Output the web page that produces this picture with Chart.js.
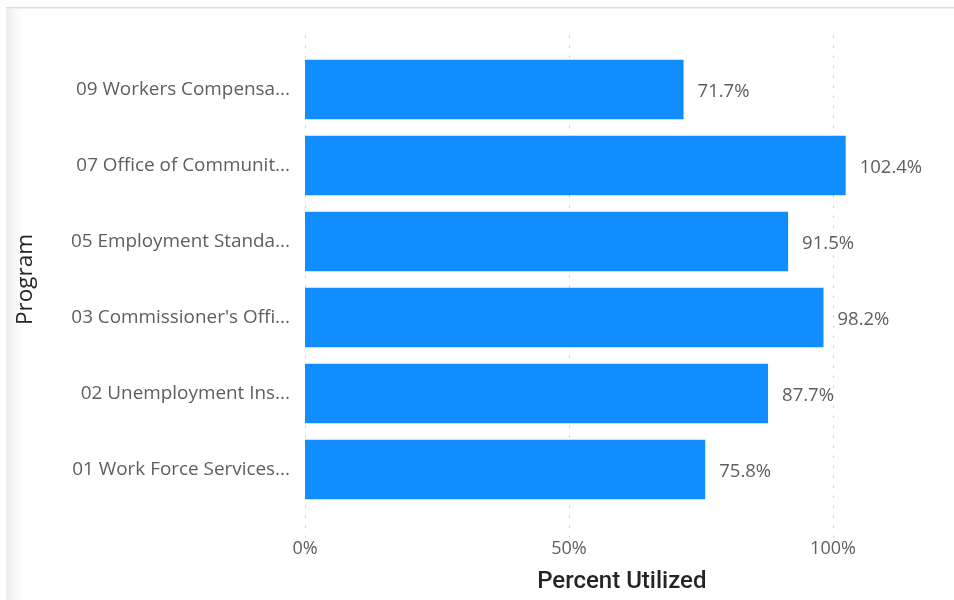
<!DOCTYPE html>
<html>
<head>
<meta charset="utf-8">
<script src="https://cdn.jsdelivr.net/npm/chart.js@4.4.1/dist/chart.umd.min.js"></script>
<style>
    html, body { margin: 0; padding: 0; background: #fff; }
    #wrap { position: relative; width: 954px; height: 600px; overflow: hidden; }
    #card {
        position: absolute; left: 6px; top: 7px; right: 0; bottom: 0;
        border-top: 1px solid #dcdcdc;
        box-shadow: inset 0 1px 0 #efefef;
        background: linear-gradient(to right, #ebebeb 0px, #f7f7f7 8px, #ffffff 18px);
    }
    #myChart { position: absolute; left: 0; top: 0; }
</style>
</head>
<body>
<div id="wrap">
    <div id="card"></div>
    <canvas id="myChart" width="954" height="600"></canvas>
</div>
<script>
//program utilization
var programs = [
    "09 Workers Compensa...",
    "07 Office of Communit...",
    "05 Employment Standa...",
    "03 Commissioner's Offi...",
    "02 Unemployment Ins...",
    "01 Work Force Services..."
];
var utilized = [71.7, 102.4, 91.5, 98.2, 87.7, 75.8];
var xTicks = [0, 50, 100];
var xMax = 120;

var labelFont = "'Open Sans', 'Noto Sans', sans-serif";
var textGray = "#605E5C";
var titleColor = "#252423";

//dotted vertical lines, they run a bit past the bars on both ends
var dottedGrid = {
    id: 'dottedGrid',
    beforeDatasetsDraw: function(chart){
        var ctx = chart.ctx;
        var xs = chart.scales.x;
        var area = chart.chartArea;
        ctx.save();
        ctx.strokeStyle = "#c8c6c4";
        ctx.lineWidth = 1;
        ctx.setLineDash([2, 8]);
        xTicks.forEach(function(v){
            var px = Math.round(xs.getPixelForValue(v)) + 0.5;
            ctx.beginPath();
            ctx.moveTo(px, area.top - 16);
            ctx.lineTo(px, area.bottom + 34);
            ctx.stroke();
        });
        ctx.restore();
    }
};

//value labels after each bar
var valueLabels = {
    id: 'valueLabels',
    afterDatasetsDraw: function(chart){
        var ctx = chart.ctx;
        var meta = chart.getDatasetMeta(0);
        ctx.save();
        ctx.font = "18.5px " + labelFont;
        ctx.fillStyle = textGray;
        ctx.textAlign = "left";
        ctx.textBaseline = "middle";
        meta.data.forEach(function(bar, i){
            ctx.fillText(utilized[i].toFixed(1) + "%", bar.x + 14, bar.y + 2);
        });
        ctx.restore();
    }
};

function createGraph(){
    var ctx = document.getElementById("myChart");
    var chart = new Chart(ctx, {
        type: 'bar',
        data: {
            labels: programs,
            datasets: [{
                data: utilized,
                backgroundColor: "#118DFF",
                borderWidth: 0,
                categoryPercentage: 1,
                barPercentage: 0.78
            }]
        },
        options: {
            indexAxis: 'y',
            responsive: false,
            animation: false,
            layout: {
                padding: { top: 51.5, right: 15.4, left: 0, bottom: 0 }
            },
            plugins: {
                legend: { display: false },
                tooltip: { enabled: false }
            },
            scales: {
                x: {
                    min: 0,
                    max: xMax,
                    afterBuildTicks: function(s){
                        s.ticks = xTicks.map(function(v){ return { value: v }; });
                    },
                    afterFit: function(s){ s.height = 92.5; },
                    grid: { display: false, drawTicks: false },
                    border: { display: false },
                    ticks: {
                        padding: 31,
                        color: textGray,
                        font: { family: labelFont, size: 18 },
                        callback: function(v){ return v + "%"; }
                    },
                    title: {
                        display: true,
                        text: "Percent Utilized",
                        color: titleColor,
                        font: { family: "Roboto, sans-serif", size: 24, weight: 500 },
                        padding: { top: 0, bottom: 3.5 }
                    }
                },
                y: {
                    afterFit: function(s){ s.width = 305; },
                    grid: { display: false, drawTicks: false },
                    border: { display: false },
                    ticks: {
                        padding: 15,
                        color: textGray,
                        font: { family: labelFont, size: 18.9 }
                    },
                    title: {
                        display: true,
                        text: "Program",
                        color: titleColor,
                        font: { family: labelFont, size: 22.5 },
                        padding: { top: 12, bottom: 0 }
                    }
                }
            }
        },
        plugins: [dottedGrid, valueLabels]
    });
}

createGraph();
</script>
</body>
</html>
